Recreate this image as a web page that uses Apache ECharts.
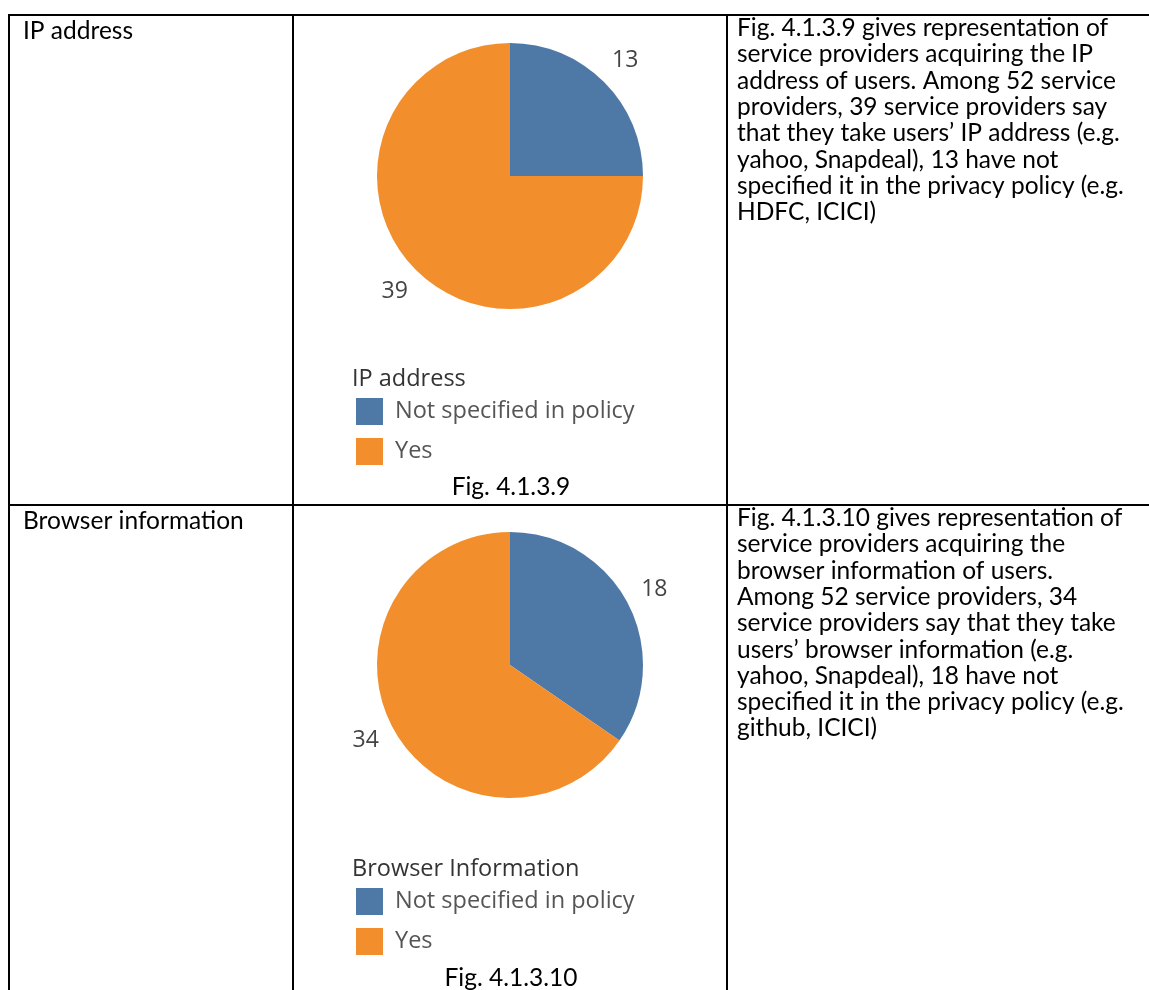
<!DOCTYPE html>
<html>
<head>
<meta charset="utf-8">
<script src="https://cdn.jsdelivr.net/npm/echarts@6/dist/echarts.min.js"></script>
<style>
html,body{margin:0;padding:0;background:#fff;}
#chart{width:1149px;height:990px;}
</style>
</head>
<body>
<div id="chart"></div>
<script>
// ---- data ----
const categories = ['Not specified in policy', 'Yes'];
const ipValues = [13, 39];
const browserValues = [18, 34];
const rowLabels = ['IP address', 'Browser information'];
const legendTitles = ['IP address', 'Browser Information'];
const captions = ['Fig. 4.1.3.9', 'Fig. 4.1.3.10'];
const descriptions = [
  ['Fig. 4.1.3.9 gives representation of',
   'service providers acquiring the IP',
   'address of users. Among 52 service',
   'providers, 39 service providers say',
   'that they take users\u2019 IP address (e.g.',
   'yahoo, Snapdeal), 13 have not',
   'specified it in the privacy policy (e.g.',
   'HDFC, ICICI)'],
  ['Fig. 4.1.3.10 gives representation of',
   'service providers acquiring the',
   'browser information of users.',
   'Among 52 service providers, 34',
   'service providers say that they take',
   'users\u2019 browser information (e.g.',
   'yahoo, Snapdeal), 18 have not',
   'specified it in the privacy policy (e.g.',
   'github, ICICI)']
];
const colors = ['#4e79a7', '#f28e2b'];

// ---- layout ----
const rowTops = [14, 504];
const pieCenters = [[510, 176], [510, 665]];
const pieRadius = 133;
const docFont = 'Lato';
const tabFont = '"Open Sans", "Noto Sans", sans-serif';
const docSize = 24.5;
const tabSize = 23.5;

const chart = echarts.init(document.getElementById('chart'), null, {renderer: 'canvas'});

function pieSeries(values, idx) {
  return {
    type: 'pie',
    center: pieCenters[idx],
    radius: pieRadius,
    startAngle: 90,
    clockwise: true,
    animation: false,
    silent: true,
    data: categories.map((c, i) => ({name: c, value: values[i], itemStyle: {color: colors[i]}})),
    label: {
      show: true,
      position: 'outside',
      formatter: '{c}',
      fontFamily: tabFont,
      fontSize: 23,
      color: '#444',
      distanceToLabelLine: 0
    },
    labelLine: {show: false, length: 30, length2: 0},
    labelLayout: function () { return {align: 'center', verticalAlign: 'middle'}; }
  };
}

const legendTops = [398, 888];
const legends = legendTops.map((t, i) => ({
  orient: 'vertical',
  left: 356,
  top: t,
  padding: 0,
  icon: 'rect',
  itemWidth: 27,
  itemHeight: 27,
  itemGap: 13,
  selectedMode: false,
  data: categories,
  textStyle: {fontFamily: tabFont, fontSize: tabSize, color: '#555', padding: [0, 0, 0, 7], lineHeight: 27}
}));

const graphics = [];
const lineStyle = {stroke: '#000', lineWidth: 2};
// table lines
graphics.push({type: 'line', shape: {x1: 8, y1: 15, x2: 1149, y2: 15}, style: lineStyle, silent: true});
graphics.push({type: 'line', shape: {x1: 8, y1: 505, x2: 1149, y2: 505}, style: lineStyle, silent: true});
[9, 293, 727].forEach(x => graphics.push({type: 'line', shape: {x1: x, y1: 14, x2: x, y2: 990}, style: lineStyle, silent: true}));

rowTops.forEach((top, i) => {
  graphics.push({type: 'text', x: 23, y: top + 5, style: {text: rowLabels[i], font: docSize + 'px ' + docFont, fill: '#000', textVerticalAlign: 'top'}});
  graphics.push({type: 'text', x: 737, y: top + 1, style: {text: descriptions[i].join('\n'), font: docSize + 'px ' + docFont, fill: '#000', lineHeight: 26.3, textVerticalAlign: 'top'}});
});

const legendTitleY = [379, 869];
legendTitleY.forEach((y, i) => {
  graphics.push({type: 'text', x: 352, y: y, style: {text: legendTitles[i], font: tabSize + 'px ' + tabFont, fill: '#333', textVerticalAlign: 'middle'}});
});
const captionY = [487, 978];
captionY.forEach((y, i) => {
  graphics.push({type: 'text', x: 511, y: y, style: {text: captions[i], font: docSize + 'px ' + docFont, fill: '#000', textAlign: 'center', textVerticalAlign: 'middle'}});
});

chart.setOption({
  backgroundColor: '#fff',
  animation: false,
  legend: legends,
  series: [pieSeries(ipValues, 0), pieSeries(browserValues, 1)],
  graphic: graphics
});
</script>
</body>
</html>
